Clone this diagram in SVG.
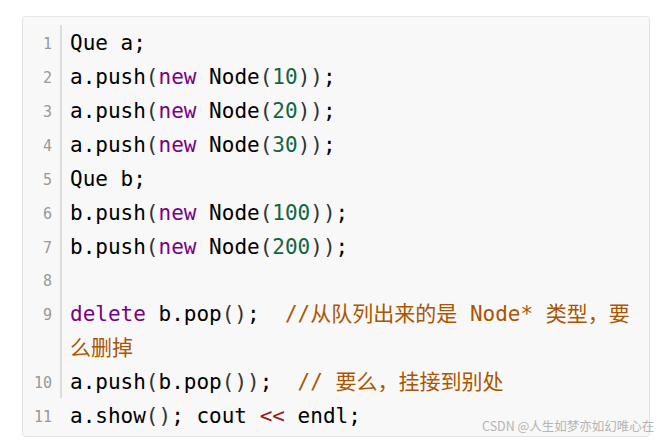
<svg xmlns="http://www.w3.org/2000/svg" width="663" height="441" viewBox="0 0 663 441">
<style>
.code{font-family:"DejaVu Sans Mono","Noto Sans CJK SC",monospace;font-size:21px;fill:#000;white-space:pre}
.ln{font-family:"DejaVu Sans Mono","Liberation Mono",monospace;font-size:15px;fill:#999;text-anchor:end}
.kw{fill:#770088}
.num{fill:#116644}
.p{fill:#333}
.cm{fill:#aa5500}
.op{fill:#981a1a}
.wm{font-family:"Noto Sans CJK SC","Noto Sans",sans-serif;font-size:12.5px;fill:#b4b4b4}
</style>
<rect width="663" height="441" fill="#ffffff"/>
<g id="codebox">
<rect x="22.5" y="16.5" width="627" height="420" rx="3" fill="#f8f8f8" stroke="#e4e4e4" stroke-width="1"/>
<line x1="61" y1="25" x2="61" y2="398" stroke="#dddddd" stroke-width="2"/>
</g>
<g id="linenumbers">
<text class="ln" x="52" y="49">1</text>
<text class="ln" x="52" y="83">2</text>
<text class="ln" x="52" y="117">3</text>
<text class="ln" x="52" y="151">4</text>
<text class="ln" x="52" y="185">5</text>
<text class="ln" x="52" y="219">6</text>
<text class="ln" x="52" y="253">7</text>
<text class="ln" x="52" y="286">8</text>
<text class="ln" x="52" y="320">9</text>
<text class="ln" x="52" y="388">10</text>
<text class="ln" x="52" y="422">11</text>
</g>
<g id="code" xml:space="preserve">
<text class="code" x="70" y="50">Que a;</text>
<text class="code" x="70" y="84">a.push<tspan class="p">(</tspan><tspan class="kw">new</tspan> Node<tspan class="p">(</tspan><tspan class="num">10</tspan><tspan class="p">))</tspan>;</text>
<text class="code" x="70" y="118">a.push<tspan class="p">(</tspan><tspan class="kw">new</tspan> Node<tspan class="p">(</tspan><tspan class="num">20</tspan><tspan class="p">))</tspan>;</text>
<text class="code" x="70" y="152">a.push<tspan class="p">(</tspan><tspan class="kw">new</tspan> Node<tspan class="p">(</tspan><tspan class="num">30</tspan><tspan class="p">))</tspan>;</text>
<text class="code" x="70" y="186">Que b;</text>
<text class="code" x="70" y="220">b.push<tspan class="p">(</tspan><tspan class="kw">new</tspan> Node<tspan class="p">(</tspan><tspan class="num">100</tspan><tspan class="p">))</tspan>;</text>
<text class="code" x="70" y="254">b.push<tspan class="p">(</tspan><tspan class="kw">new</tspan> Node<tspan class="p">(</tspan><tspan class="num">200</tspan><tspan class="p">))</tspan>;</text>
<text class="code" x="70" y="321"><tspan class="kw">delete</tspan> b.pop<tspan class="p">()</tspan>;  <tspan class="cm">//从队列出来的是 Node* 类型，要</tspan></text>
<text class="code" x="70" y="355"><tspan class="cm">么删掉</tspan></text>
<text class="code" x="70" y="389">a.push<tspan class="p">(</tspan>b.pop<tspan class="p">())</tspan>;  <tspan class="cm">// 要么，挂接到别处</tspan></text>
<text class="code" x="70" y="423">a.show<tspan class="p">()</tspan>; cout <tspan class="op">&lt;&lt;</tspan> endl;</text>
</g>
<g id="watermark">
<text class="wm" x="482" y="431">CSDN @人生如梦亦如幻唯心在</text>
</g>
</svg>
